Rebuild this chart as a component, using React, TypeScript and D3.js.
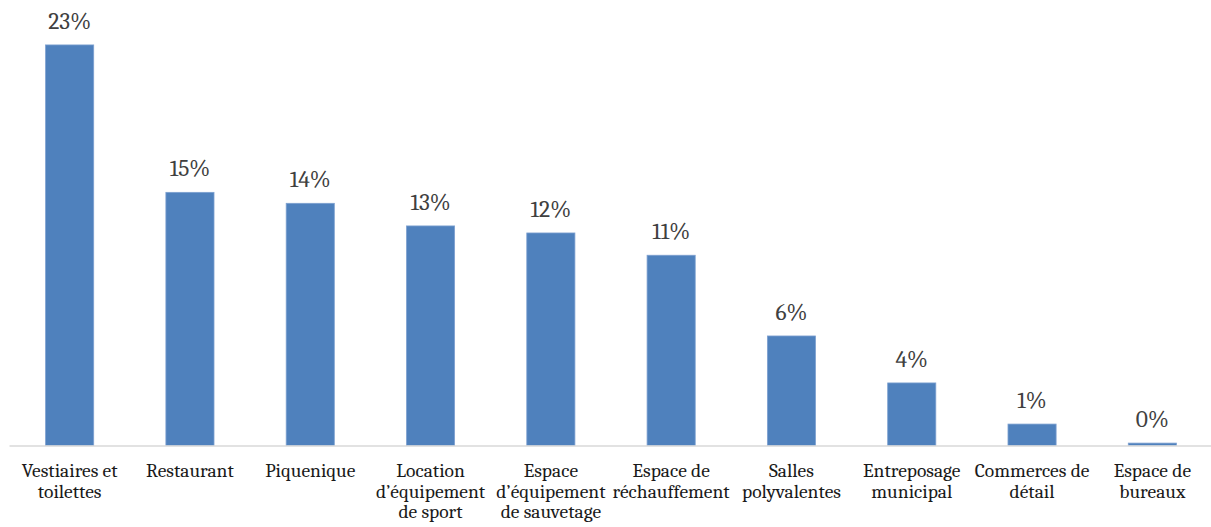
import React from "react";
import * as d3 from "d3";

const categories: string[] = [
  "Vestiaires et\ntoilettes",
  "Restaurant",
  "Piquenique",
  "Location\nd’équipement\nde sport",
  "Espace\nd’équipement\nde sauvetage",
  "Espace de\nréchauffement",
  "Salles\npolyvalentes",
  "Entreposage\nmunicipal",
  "Commerces de\ndétail",
  "Espace de\nbureaux",
];
const values: number[] = [23.37, 14.77, 14.13, 12.81, 12.4, 11.1, 6.39, 3.65, 1.25, 0.14];

const W = 1211;
const H = 527;
const baseline = 445.5;
const FONT = "Cambria, 'Liberation Serif', 'DejaVu Serif', serif";

export default function App() {
  const x = d3.scaleBand<number>().domain(d3.range(categories.length)).range([9.5, 1212.5]).paddingInner(0.6).paddingOuter(0.3);
  const y = d3.scaleLinear().domain([0, 25]).range([baseline, baseline - 25 * 17.14]);
  const fmt = (v: number) => `${Math.round(v)}%`;
  return (
    <svg width={W} height={H} style={{ position: "absolute", left: 0, top: 0, background: "#fff" }} fontFamily={FONT}>
      {values.map((v, i) => (
        <g key={i}>
          <rect x={x(i)!} y={y(v)} width={x.bandwidth()} height={baseline - y(v)} fill="#4F81BD" stroke="#7DA0D0" strokeWidth={0.8} />
          <text x={x(i)! + x.bandwidth() / 2} y={y(v) - 16} textAnchor="middle" fontSize={23.5} fill="#404040">{fmt(v)}</text>
        </g>
      ))}
      <line x1={9.5} x2={W} y1={baseline + 0.5} y2={baseline + 0.5} stroke="#D9D9D9" strokeWidth={1.5} />
      {categories.map((c, i) => (
        <text key={i} x={x(i)! + x.bandwidth() / 2} y={477} textAnchor="middle" fontSize={19.5} fill="#1a1a1a">
          {c.split("\n").map((line, j) => (
            <tspan key={j} x={x(i)! + x.bandwidth() / 2} dy={j === 0 ? 0 : 20.5}>{line}</tspan>
          ))}
        </text>
      ))}
    </svg>
  );
}
